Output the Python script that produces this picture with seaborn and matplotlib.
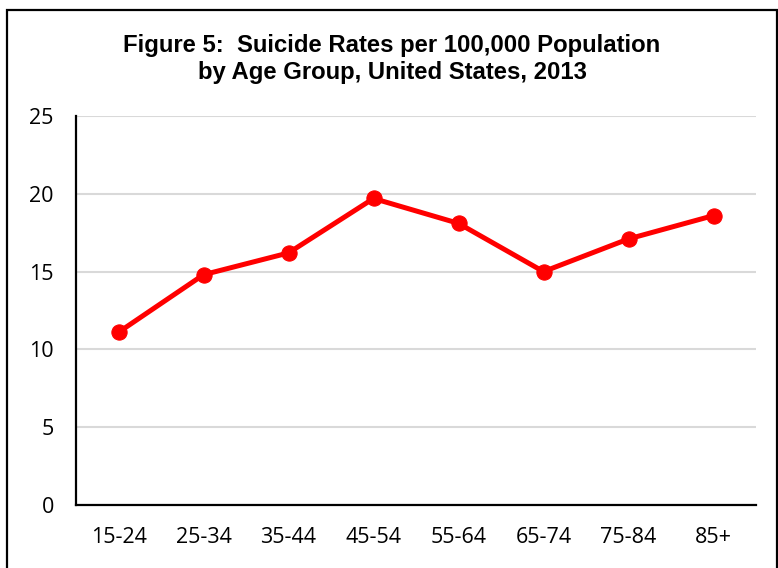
import matplotlib
matplotlib.use("Agg")
import matplotlib.pyplot as plt
from matplotlib.patches import Rectangle
import seaborn as sns
import pandas as pd

# Suicide rates per 100,000 population by age group, US 2013
age_groups = ["15-24", "25-34", "35-44", "45-54", "55-64", "65-74", "75-84", "85+"]
rates = [11.1, 14.8, 16.2, 19.7, 18.1, 15.0, 17.1, 18.6]
y_ticks = [0, 5, 10, 15, 20, 25]

df = pd.DataFrame({"age": age_groups, "rate": rates})

sns.set_style("white")
plt.rcParams["font.family"] = ["Open Sans", "DejaVu Sans"]

W, H = 778, 568
fig = plt.figure(figsize=(W / 100, H / 100), dpi=100)
ax = fig.add_axes([76 / W, 1 - 505 / H, (756 - 76) / W, (505 - 116) / H])

sns.lineplot(data=df, x="age", y="rate", ax=ax, color="#FF0000",
             linewidth=3.6, marker="o", markersize=11,
             markeredgecolor="#FF0000", sort=False, zorder=3)

ax.set_xlim(-0.5, len(age_groups) - 0.5)
ax.set_ylim(0, 25)
ax.set_yticks(y_ticks)
ax.set_xlabel("")
ax.set_ylabel("")

ax.yaxis.grid(True, color="#D9D9D9", linewidth=1.5)
ax.set_axisbelow(True)
for side in ("top", "right"):
    ax.spines[side].set_visible(False)
for side in ("left", "bottom"):
    ax.spines[side].set_color("black")
    ax.spines[side].set_linewidth(1.6)

ax.tick_params(axis="y", direction="out", length=6, width=1.6,
               color="black", pad=10, labelsize=15.5, labelcolor="black")
ax.tick_params(axis="x", length=0, pad=16, labelsize=15.5, labelcolor="black")

fig.text(0.504, 1 - 59 / H,
         "Figure 5:  Suicide Rates per 100,000 Population\nby Age Group, United States, 2013",
         ha="center", va="center", fontsize=17.2, fontweight="bold",
         color="black", family=["Liberation Sans", "DejaVu Sans"],
         linespacing=1.2)

# Chart border
fig.patches.append(Rectangle((7 / W, -0.05), (777 - 7) / W, 1.05 - 10 / H,
                             transform=fig.transFigure, fill=False,
                             edgecolor="black", linewidth=1.6))

fig.savefig("out.png", dpi=100)
